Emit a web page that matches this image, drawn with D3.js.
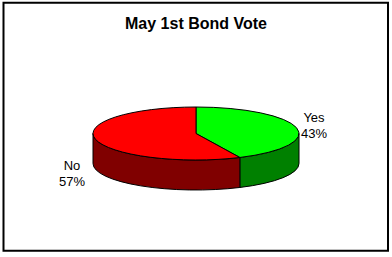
<!DOCTYPE html>
<html>
<head>
<meta charset="utf-8">
<script src="https://d3js.org/d3.v7.min.js"></script>
<style>
  body { margin: 0; background: #fff; }
  text { font-family: Arial, "Liberation Sans", sans-serif; }
</style>
</head>
<body>
<svg id="chart" width="392" height="257"></svg>
<script>
// chart data
var labels = ["Yes", "No"];
var values = [43, 57];
var topColors = ["#00FF00", "#FF0000"];
var sideColors = ["#008000", "#800000"];
var title = "May 1st Bond Vote";

var svg = d3.select("#chart");

// frame
svg.append("rect")
  .attr("x", 3.5).attr("y", 2.75)
  .attr("width", 384.5).attr("height", 248)
  .attr("fill", "#fff")
  .attr("stroke", "#000")
  .attr("stroke-width", 2);

svg.append("text")
  .attr("x", 196).attr("y", 29)
  .attr("text-anchor", "middle")
  .attr("font-size", 16)
  .attr("font-weight", "bold")
  .text(title);

// ellipse geometry
var cx = 196, cy = 133.5, rx = 103, ry = 26.5, depth = 30;

function pt(a, dy) {
  return [cx + rx * Math.sin(a), cy - ry * Math.cos(a) + (dy || 0)];
}

var pie = d3.pie().sort(null).startAngle(0).endAngle(2 * Math.PI);
var arcs = pie(values);

var g = svg.append("g");

// side walls (front half only)
arcs.forEach(function (d, i) {
  var a0 = Math.max(d.startAngle, Math.PI / 2);
  var a1 = Math.min(d.endAngle, 3 * Math.PI / 2);
  if (a1 <= a0) return;
  var p0 = pt(a0), p1 = pt(a1), q1 = pt(a1, depth), q0 = pt(a0, depth);
  var large = (a1 - a0) > Math.PI ? 1 : 0;
  var path = "M" + p0 + " A" + rx + "," + ry + " 0 " + large + " 1 " + p1 +
    " L" + q1 + " A" + rx + "," + ry + " 0 " + large + " 0 " + q0 + " Z";
  g.append("path")
    .attr("d", path)
    .attr("fill", sideColors[i])
    .attr("stroke", "#000")
    .attr("stroke-width", 1)
    .attr("stroke-linejoin", "round");
});

// top faces
arcs.forEach(function (d, i) {
  var p0 = pt(d.startAngle), p1 = pt(d.endAngle);
  var large = (d.endAngle - d.startAngle) > Math.PI ? 1 : 0;
  var path = "M" + cx + "," + cy + " L" + p0 + " A" + rx + "," + ry + " 0 " + large + " 1 " + p1 + " Z";
  g.append("path")
    .attr("d", path)
    .attr("fill", topColors[i])
    .attr("stroke", "#000")
    .attr("stroke-width", 1)
    .attr("stroke-linejoin", "round");
});

// labels
var labelPos = [[314, 122], [72, 170]];
arcs.forEach(function (d, i) {
  var t = svg.append("text")
    .attr("text-anchor", "middle")
    .attr("font-size", 13)
    .attr("x", labelPos[i][0]).attr("y", labelPos[i][1]);
  t.append("tspan").attr("x", labelPos[i][0]).text(labels[i]);
  t.append("tspan").attr("x", labelPos[i][0]).attr("dy", 16).text(values[i] + "%");
});
</script>
</body>
</html>
